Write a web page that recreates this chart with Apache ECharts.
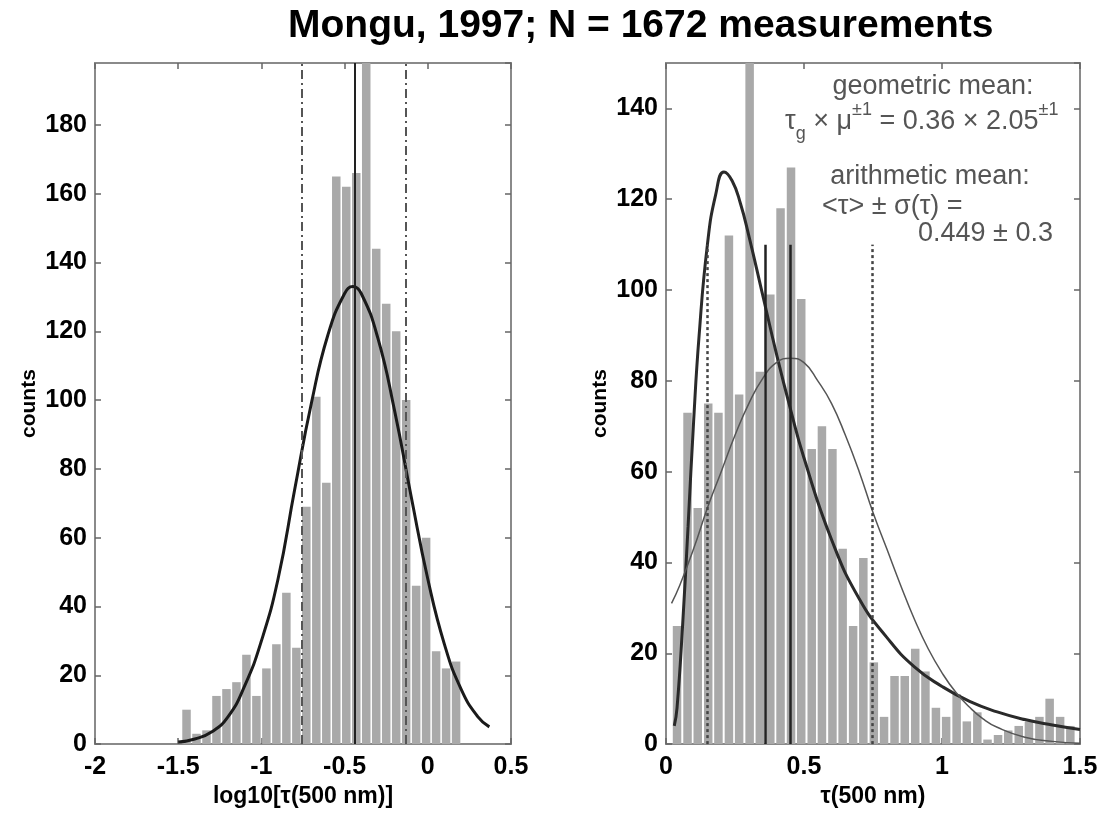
<!DOCTYPE html>
<html><head><meta charset="utf-8">
<script src="https://cdn.jsdelivr.net/npm/echarts@6/dist/echarts.min.js"></script>
<style>html,body{margin:0;padding:0;background:#fff}#c{width:1111px;height:813px}</style>
</head><body><div id="c"></div>
<script>
// ---------------- data ----------------
const chartTitle = 'Mongu, 1997; N = 1672 measurements';

// left panel: histogram of log10(tau)
const logBinCenters = [-1.45,-1.39,-1.33,-1.27,-1.21,-1.15,-1.09,-1.03,-0.97,-0.91,-0.85,-0.79,-0.73,-0.67,-0.61,-0.55,-0.49,-0.43,-0.37,-0.31,-0.25,-0.19,-0.13,-0.07,-0.01,0.05,0.11,0.17];
const logCounts     = [10,3,4,14,16,18,26,14,22,29,44,28,69,101,76,165,162,166,198,144,128,120,100,46,60,27,22,24];
const logFitX = [-1.5,-1.4,-1.3,-1.2,-1.1,-1.0,-0.9,-0.8,-0.7,-0.6,-0.5,-0.45,-0.4,-0.3,-0.2,-0.1,0,0.1,0.2,0.3,0.37];
const logFitY = [0.6,1.5,3.5,8,17,30,48,74,99,119,131,133,131,118,97,72,48,29,16,8,5];
const logMean = -0.444;
const logSigmaLines = [-0.756, -0.132];
const leftXTicks = [-2,-1.5,-1,-0.5,0,0.5];

// right panel: histogram of tau
const tauBinCenters = [0.04,0.078,0.115,0.153,0.19,0.228,0.265,0.303,0.34,0.378,0.415,0.453,0.49,0.528,0.565,0.603,0.64,0.678,0.715,0.753,0.79,0.828,0.865,0.903,0.94,0.978,1.015,1.053,1.09,1.128,1.165,1.203,1.24,1.278,1.315,1.353,1.39,1.428,1.465];
const tauCounts     = [26,73,52,75,73,112,77,150,82,99,118,127,98,65,70,65,43,26,41,18,6,15,15,21,16,8,6,11,5,7,1,2,3,4,5,6,10,6,4];
const lognormX = [0.03,0.04,0.06,0.08,0.1,0.12,0.15,0.18,0.21,0.24,0.27,0.3,0.35,0.4,0.45,0.5,0.6,0.7,0.8,0.9,1.0,1.1,1.2,1.3,1.4,1.5];
const lognormY = [4,8,26,48,71,90,110,121,126,124,119,112,99,86,74,63,45,32,23.5,17,12.7,9.4,7.1,5.4,4.2,3.2];
const normX = [0.02,0.05,0.1,0.15,0.2,0.25,0.3,0.35,0.4,0.45,0.5,0.55,0.6,0.65,0.7,0.75,0.8,0.85,0.9,0.95,1.0,1.05,1.1,1.15,1.2,1.3,1.4,1.5];
const normY = [31,35,43,52,60,68,75,80.5,84,85,84,80,75,68,60,51,43,35,27.5,21,15.7,11.4,8.1,5.5,3.7,1.5,0.6,0.2];
const tauGeoMean = 0.36;
const tauArithMean = 0.449;
const tauSigmaLines = [0.149, 0.749];
const tauLineTop = 110;
const rightXTicks = [0,0.5,1,1.5];

// ---------------- chart ----------------
const FONT = '"Liberation Sans", Arial, Helvetica, sans-serif';
const BAR = '#a9a9a9';
const BOX = '#8a8a8a';
const TXT = '#555';
const chart = echarts.init(document.getElementById('c'), null, {renderer:'canvas'});
const zip = (a,b) => a.map((v,i)=>[v,b[i]]);

function xAx(grid, min, max, pos, labels) {
  return {
    type:'value', gridIndex:grid, min, max, interval:0.5, position:pos,
    axisLine:{show:true, onZero:false, lineStyle:{color:BOX, width:2}},
    axisTick:{show:true, inside:true, length:6, lineStyle:{color:'#666', width:1.5}},
    splitLine:{show:false},
    axisLabel:{show:labels, color:'#000', fontFamily:FONT, fontWeight:'bold', fontSize:25, margin:11,
      formatter:v=>String(v)}
  };
}
function yAx(grid, max, pos, labels, name) {
  return {
    type:'value', gridIndex:grid, min:0, max, interval:20, position:pos,
    name: name||'', nameLocation:'middle', nameGap:55,
    nameTextStyle:{color:'#000', fontFamily:FONT, fontWeight:'bold', fontSize:21},
    axisLine:{show:true, onZero:false, lineStyle:{color:BOX, width:2}},
    axisTick:{show:true, inside:true, length:6, lineStyle:{color:'#666', width:1.5}},
    splitLine:{show:false},
    axisLabel:{show:labels, showMaxLabel:false, color:'#000', fontFamily:FONT, fontWeight:'bold', fontSize:25, margin:8,
      formatter:v=> (v%20===0? String(v):'')}
  };
}

const xAxes = [xAx(0,-2,0.5,'bottom',true), xAx(0,-2,0.5,'top',false), xAx(1,0,1.5,'bottom',true), xAx(1,0,1.5,'top',false)];
xAxes[0].name = 'log10[τ(500 nm)]';
xAxes[2].name = 'τ(500 nm)';
[0,2].forEach(i=>{ Object.assign(xAxes[i], {nameLocation:'middle', nameGap:38,
  nameTextStyle:{color:'#000', fontFamily:FONT, fontWeight:'bold', fontSize:23}}); });

const vline = (x, type, width, color) => ({xAxis:x, lineStyle:{type, width, color}});
const seg = (x, top, type, width, color) => [{coord:[x,0], lineStyle:{type, width, color}}, {coord:[x,top]}];

const option = {
  animation:false,
  backgroundColor:'#fff',
  title:{text:chartTitle, left:283, top:2,
    textStyle:{fontFamily:FONT, fontWeight:'bold', fontSize:39, color:'#000'}},
  grid:[
    {left:95, top:63, width:416, height:682, show:true, borderColor:BOX, borderWidth:2, containLabel:false},
    {left:666, top:63, width:414, height:682, show:true, borderColor:BOX, borderWidth:2, containLabel:false}
  ],
  xAxis:xAxes,
  yAxis:[yAx(0,198,'left',true,'counts'), yAx(0,198,'right',false), yAx(1,150,'left',true,'counts'), yAx(1,150,'right',false)],
  series:[
    {type:'bar', xAxisIndex:0, yAxisIndex:0, barWidth:8.5, data:zip(logBinCenters, logCounts),
      itemStyle:{color:BAR}, clip:true,
      markLine:{silent:true, symbol:['none','none'], label:{show:false},
        data:[vline(logMean,'solid',2,'#222'), vline(logSigmaLines[0],[9,4,2,4],2,'#555'), vline(logSigmaLines[1],[9,4,2,4],2,'#555')]}},
    {type:'line', xAxisIndex:0, yAxisIndex:0, smooth:true, symbol:'none', data:zip(logFitX, logFitY),
      lineStyle:{color:'#1a1a1a', width:3}},
    {type:'bar', xAxisIndex:2, yAxisIndex:2, barWidth:8.5, data:zip(tauBinCenters, tauCounts),
      itemStyle:{color:BAR}, clip:true,
      markLine:{silent:true, symbol:['none','none'], label:{show:false},
        data:[seg(tauGeoMean,tauLineTop,'solid',2.5,'#222'), seg(tauArithMean,tauLineTop,'solid',2.5,'#222'),
              seg(tauSigmaLines[0],tauLineTop,[3,3],2.5,'#444'), seg(tauSigmaLines[1],tauLineTop,[3,3],2.5,'#444')]}},
    {type:'line', xAxisIndex:2, yAxisIndex:2, smooth:true, symbol:'none', data:zip(lognormX, lognormY),
      lineStyle:{color:'#2a2a2a', width:3}},
    {type:'line', xAxisIndex:2, yAxisIndex:2, smooth:true, symbol:'none', data:zip(normX, normY),
      lineStyle:{color:'#555', width:1.5}}
  ],
  graphic:[
    {type:'text', x:933, y:87, style:{text:'geometric mean:', font:'27px '+FONT, fill:TXT, align:'center', verticalAlign:'middle'}},
    {type:'text', x:785, y:122, style:{
      text:'{t|τ}{sub|g}{t| × μ}{sup|±1}{t| = 0.36 × 2.05}{sup|±1}',
      fill:TXT, align:'left', verticalAlign:'middle',
      rich:{
        t:{fontSize:27, fontFamily:FONT, fill:TXT, lineHeight:42},
        sub:{fontSize:18, fontFamily:FONT, fill:TXT, verticalAlign:'bottom', lineHeight:42},
        sup:{fontSize:18, fontFamily:FONT, fill:TXT, verticalAlign:'top', lineHeight:42}
      }}},
    {type:'text', x:930, y:177, style:{text:'arithmetic mean:', font:'27px '+FONT, fill:TXT, align:'center', verticalAlign:'middle'}},
    {type:'text', x:822, y:207, style:{text:'<τ> ± σ(τ) =', font:'27px '+FONT, fill:TXT, align:'left', verticalAlign:'middle'}},
    {type:'text', x:918, y:234, style:{text:'0.449 ± 0.3', font:'27px '+FONT, fill:TXT, align:'left', verticalAlign:'middle'}}
  ]
};
chart.setOption(option);
</script></body></html>
